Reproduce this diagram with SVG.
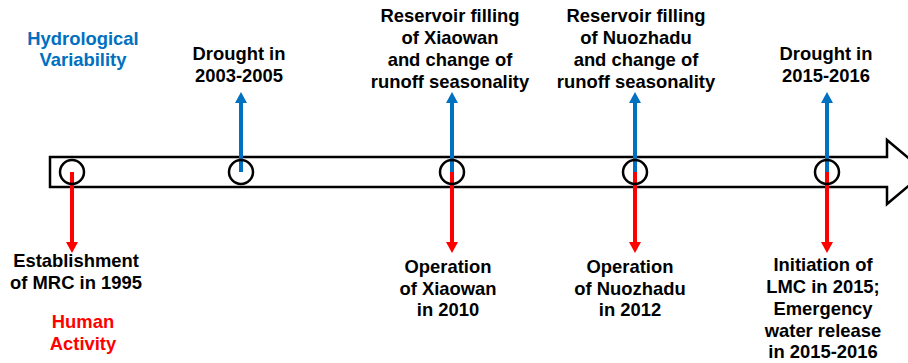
<svg xmlns="http://www.w3.org/2000/svg" width="908" height="363" viewBox="0 0 908 363">
<style>
text{font-family:"Liberation Sans",Arial,sans-serif;font-weight:bold;font-size:18.4px;text-anchor:middle}
.k{fill:#000}.b{fill:#0070C0}.r{fill:#FF0000}
.bl{stroke:#0070C0;stroke-width:4}.rl{stroke:#FF0000;stroke-width:4}
.c{fill:none;stroke:#000;stroke-width:2.5}
</style>
<g id="timeline">
<path d="M50 157 H887 V140 L925 172 L887 204 V187 H50 Z" fill="#fff" stroke="#000" stroke-width="2.5"/>
</g>
<g id="connectors">
<line class="bl" x1="241" y1="172" x2="241" y2="102"/><path d="M241 92 L235 103 L247 103 Z" fill="#0070C0"/>
<line class="bl" x1="452" y1="172" x2="452" y2="102"/><path d="M452 92 L446 103 L458 103 Z" fill="#0070C0"/>
<line class="bl" x1="635" y1="172" x2="635" y2="102"/><path d="M635 92 L629 103 L641 103 Z" fill="#0070C0"/>
<line class="bl" x1="827" y1="172" x2="827" y2="102"/><path d="M827 92 L821 103 L833 103 Z" fill="#0070C0"/>
<line class="rl" x1="72" y1="172" x2="72" y2="243"/><path d="M72 253 L66 242 L78 242 Z" fill="#FF0000"/>
<line class="rl" x1="452" y1="172" x2="452" y2="243"/><path d="M452 253 L446 242 L458 242 Z" fill="#FF0000"/>
<line class="rl" x1="635" y1="172" x2="635" y2="243"/><path d="M635 253 L629 242 L641 242 Z" fill="#FF0000"/>
<line class="rl" x1="827" y1="172" x2="827" y2="243"/><path d="M827 253 L821 242 L833 242 Z" fill="#FF0000"/>
</g>
<g id="n1995"><circle class="c" cx="72" cy="172" r="12"/><text class="k" x="76" y="267">Establishment</text><text class="k" x="76" y="289">of MRC in 1995</text></g>
<g id="n2003"><circle class="c" cx="241" cy="172" r="12"/><text class="k" x="239" y="60">Drought in</text><text class="k" x="239" y="82">2003-2005</text></g>
<g id="n2010"><circle class="c" cx="452" cy="172" r="12"/>
<text class="k" x="450" y="22">Reservoir filling</text><text class="k" x="450" y="44">of Xiaowan</text><text class="k" x="450" y="66">and change of</text><text class="k" x="450" y="88">runoff seasonality</text>
<text class="k" x="448" y="273">Operation</text><text class="k" x="448" y="295">of Xiaowan</text><text class="k" x="448" y="316">in 2010</text></g>
<g id="n2012"><circle class="c" cx="635" cy="172" r="12"/>
<text class="k" x="636" y="22">Reservoir filling</text><text class="k" x="636" y="44">of Nuozhadu</text><text class="k" x="636" y="66">and change of</text><text class="k" x="636" y="88">runoff seasonality</text>
<text class="k" x="630" y="273">Operation</text><text class="k" x="630" y="295">of Nuozhadu</text><text class="k" x="630" y="316">in 2012</text></g>
<g id="n2015"><circle class="c" cx="827" cy="172" r="12"/>
<text class="k" x="826" y="60">Drought in</text><text class="k" x="826" y="82">2015-2016</text>
<text class="k" x="823" y="271">Initiation of</text><text class="k" x="823" y="293">LMC in 2015;</text><text class="k" x="823" y="315">Emergency</text><text class="k" x="823" y="337">water release</text><text class="k" x="823" y="358">in 2015-2016</text></g>
<g id="legend-hydro"><text class="b" x="83" y="45">Hydrological</text><text class="b" x="83" y="66">Variability</text></g>
<g id="legend-human"><text class="r" x="83" y="328">Human</text><text class="r" x="83" y="350">Activity</text></g>
</svg>
